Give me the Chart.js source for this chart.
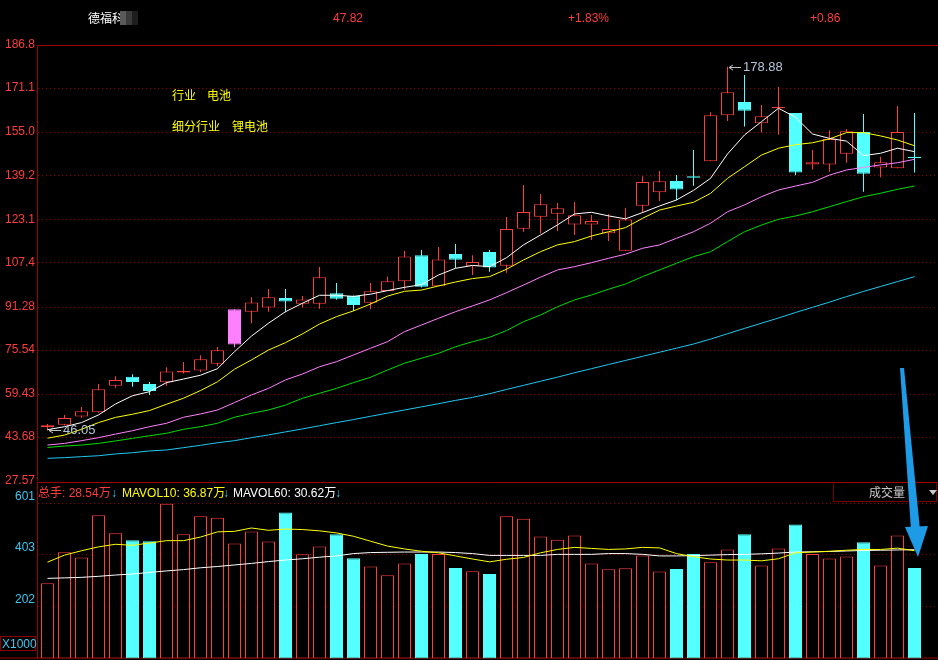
<!DOCTYPE html>
<html>
<head>
<meta charset="utf-8">
<script src="https://cdn.jsdelivr.net/npm/chart.js@4.4.1/dist/chart.umd.min.js"></script>
<style>
  html, body { margin: 0; padding: 0; background: #000; width: 938px; height: 660px; overflow: hidden; }
  #wrap { position: relative; width: 938px; height: 660px; }
  #pricebox { position: absolute; left: 0; top: 0; width: 938px; height: 492px; }
  #volbox { position: absolute; left: 0; top: 482px; width: 938px; height: 178px; }
  .t { position: absolute; white-space: nowrap; font: 12px "Liberation Sans", "Noto Sans CJK SC", sans-serif; line-height: 14px; }
  .cjk { font-family: "Noto Sans CJK SC", sans-serif; }
  .red { color: #ff3c3c; }
  .yel { color: #ffff00; }
  .wht { color: #ffffff; }
  .cyn { color: #3cc8f0; }
  #volname { position: absolute; left: 833px; top: 482px; width: 104px; height: 20px; border: 1px solid #7a0000; border-top: none; box-sizing: border-box; }
  #x1000 { position: absolute; left: 0; top: 636px; width: 36px; height: 15px; border: 1px solid #8c0000; box-sizing: border-box; }
  #overlay { position: absolute; left: 0; top: 0; pointer-events: none; }
</style>
</head>
<body>
<div id="wrap">
  <div id="pricebox"><canvas id="price"></canvas></div>
  <div id="volbox"><canvas id="vol"></canvas></div>

  <!-- header row -->
  <div class="t wht cjk" style="left:88px;top:11px;">德福科</div>
  <div style="position:absolute;left:120px;top:11px;width:6px;height:14px;background:#5a5a5a;"></div>
  <div style="position:absolute;left:126px;top:11px;width:6px;height:14px;background:#3a3a3a;"></div>
  <div style="position:absolute;left:132px;top:11px;width:6px;height:14px;background:#1e1e1e;"></div>
  <div class="t red" style="left:333px;top:11px;">47.82</div>
  <div class="t red" style="left:568px;top:11px;">+1.83%</div>
  <div class="t red" style="left:810px;top:11px;">+0.86</div>

  <!-- industry notes -->
  <div class="t yel cjk" style="left:172px;top:88px;">行业<span style="margin-left:11px;">电池</span></div>
  <div class="t yel cjk" style="left:172px;top:119px;">细分行业<span style="margin-left:12px;">锂电池</span></div>

  <!-- volume header -->
  <div class="t red" style="left:38px;top:486px;">总手: 28.54万</div>
  <div class="t cyn" style="left:111px;top:486px;">↓</div>
  <div class="t yel" style="left:122px;top:486px;">MAVOL10: 36.87万</div>
  <div class="t cyn" style="left:223px;top:486px;">↓</div>
  <div class="t wht" style="left:233px;top:486px;">MAVOL60: 30.62万</div>
  <div class="t cyn" style="left:335px;top:486px;">↓</div>

  <div id="volname">
    <div class="t cjk" style="left:35px;top:3px;color:#c8c8c8;">成交量</div>
    <div style="position:absolute;left:95px;top:8px;width:0;height:0;border-left:4px solid transparent;border-right:4px solid transparent;border-top:5px solid #c8c8c8;"></div>
  </div>
  <div id="x1000"><div class="t cyn" style="left:1px;top:0px;">X1000</div></div>

  <svg id="overlay" width="938" height="660">
    <polygon points="900,368 904,368 920,530 911,530" fill="#1e9be6"/>
    <polygon points="905,527 928,526 918,557" fill="#1e9be6"/>
  </svg>
</div>

<script>
// ── Daily candles ──
const open  = [47.2, 48.1, 51.1, 52.7, 62.4, 65.6, 63.0, 63.6, 67.2, 67.9, 70.4, 77.4, 89.4, 90.9, 94.4, 92.3, 92.3, 96.1, 95.1, 92.7,
               97.0, 100.5, 110.0, 98.7, 110.5, 106.0, 111.2, 106.2, 119.7, 124.1, 125.2, 121.2, 121.2, 118.05, 111.7, 128.1, 133.0, 137.1, 138.85, 144.3,
               161.1, 166.0, 158.2, 163.8, 162.0, 143.2, 143.2, 147.1, 155.0, 142.1, 141.8, 146.0];
const high  = [48.4, 51.7, 54.6, 63.0, 65.8, 66.6, 63.7, 69.1, 71.0, 73.5, 76.5, 90.3, 94.7, 97.7, 97.7, 95.1, 105.7, 99.9, 95.3, 99.9,
               102.3, 111.6, 111.9, 113.0, 114.1, 110.0, 111.9, 124.0, 135.7, 132.4, 129.1, 129.5, 124.7, 125.1, 127.2, 138.85, 140.8, 139.3, 148.45, 162.2,
               178.88, 175.8, 164.9, 171.5, 162.0, 148.45, 155.65, 156.1, 161.6, 146.0, 164.5, 162.0];
const low   = [46.05, 47.8, 50.7, 52.5, 61.6, 62.0, 59.0, 62.4, 66.8, 67.4, 69.5, 76.4, 85.2, 89.4, 89.2, 90.9, 90.5, 93.8, 89.7, 90.3,
               97.0, 97.4, 98.2, 98.7, 105.4, 102.8, 104.0, 103.65, 118.6, 118.0, 118.9, 117.4, 115.6, 115.2, 111.7, 125.45, 129.8, 130.1, 135.4, 144.3,
               159.0, 157.0, 154.8, 154.0, 139.2, 141.3, 140.5, 143.8, 133.2, 138.5, 141.8, 140.2];
const close = [47.9, 50.6, 53.0, 61.1, 64.5, 63.7, 60.4, 67.6, 67.8, 72.0, 75.3, 90.3, 92.8, 94.7, 93.1, 93.9, 102.0, 94.15, 91.85, 96.9,
               100.5, 109.6, 98.5, 108.5, 108.4, 107.55, 105.5, 119.6, 125.8, 128.6, 127.2, 124.6, 122.5, 119.6, 123.1, 136.8, 137.0, 134.0, 138.34, 161.1,
               169.5, 162.8, 160.8, 164.2, 140.2, 143.95, 152.5, 155.3, 139.8, 143.95, 155.0, 145.55];
const limitUpDays = [11];

// ── Moving averages ──
const ma5  = [46.3, 47.4, 48.9, 51.7, 55.7, 58.7, 60.2, 63.5, 64.8, 66.2, 68.6, 74.8, 80.5, 85.2, 89.4, 92.5, 95.4, 95.4, 95.0, 95.8,
              97.1, 98.3, 99.3, 102.8, 105.25, 106.3, 105.85, 109.1, 113.8, 117.4, 121.1, 125.1, 125.7, 124.4, 123.3, 125.6, 128.0, 130.2, 133.7, 138.1,
              147.0, 153.95, 158.8, 163.7, 160.4, 154.3, 152.7, 151.7, 146.4, 147.25, 149.1, 147.85];
const ma10 = [43.2, 44.35, 46.45, 48.9, 50.8, 51.95, 53.3, 55.6, 57.8, 60.6, 63.8, 68.4, 71.8, 75.4, 78.1, 81.3, 84.9, 87.6, 89.7, 92.2,
              95.1, 96.85, 97.3, 98.8, 100.25, 101.5, 102.2, 104.9, 108.3, 111.3, 113.8, 115.0, 117.05, 118.6, 120.1, 123.5, 126.5, 128.0, 129.35, 132.6,
              138.1, 142.35, 146.6, 149.1, 150.4, 151.1, 152.5, 154.8, 154.8, 153.6, 152.1, 150.0];
const ma20 = [40.7, 41.3, 42.3, 43.4, 44.7, 45.95, 47.4, 48.65, 50.85, 52.05, 53.5, 56.2, 59.0, 61.4, 64.5, 66.65, 69.3, 71.15, 73.6, 76.05,
              78.45, 82.1, 84.55, 87.0, 89.4, 91.5, 93.7, 96.35, 99.15, 102.0, 104.65, 105.85, 107.3, 108.9, 110.4, 112.55, 113.8, 116.2, 118.6, 121.7,
              125.9, 128.4, 131.4, 133.85, 135.3, 136.65, 139.3, 141.15, 142.1, 143.0, 143.8, 145.05];
const ma30 = [39.8, 40.35, 40.7, 41.3, 42.2, 43.15, 44.1, 45.0, 46.45, 47.4, 48.65, 50.85, 52.3, 53.5, 55.3, 57.8, 59.6, 61.4, 63.5, 65.45,
              68.1, 70.6, 72.4, 74.2, 76.6, 78.45, 80.05, 82.5, 85.75, 88.2, 91.2, 93.7, 95.5, 97.6, 99.5, 102.2, 104.65, 107.1, 109.5, 111.3,
              115.0, 118.6, 121.05, 123.15, 124.35, 125.9, 127.75, 129.6, 131.4, 132.65, 134.1, 135.3];
const ma60 = [35.85, 36.1, 36.45, 36.8, 37.45, 37.9, 38.55, 38.9, 39.75, 40.6, 41.55, 42.3, 43.4, 44.4, 45.5, 46.6, 47.75, 48.9, 50.0, 51.2,
              52.35, 53.5, 54.65, 55.8, 57.0, 58.1, 59.45, 61.0, 62.5, 64.0, 65.5, 67.1, 68.6, 70.1, 71.6, 73.1, 74.6, 76.1, 77.6, 79.4,
              81.35, 83.3, 85.2, 87.1, 89.1, 91.0, 92.9, 94.9, 96.8, 98.6, 100.4, 102.2];

// ── Volume (X1000) ──
const volume = [291, 411, 391, 554, 485, 458, 454, 599, 481, 550, 545, 445, 491, 453, 565, 403, 433, 481, 388, 356,
                322, 368, 404, 404, 350, 338, 327, 550, 541, 472, 460, 476, 368, 345, 349, 399, 337, 346, 404, 372,
                422, 481, 360, 426, 519, 404, 387, 395, 450, 360, 476, 350];
const mavol10 = [373, 400, 417, 432, 442, 438, 447, 456, 456, 470, 490, 492, 505, 496, 501, 499, 494, 486, 473, 454,
                 435, 424, 415, 409, 397, 385, 374, 384, 391, 409, 422, 430, 426, 422, 424, 430, 428, 406, 394, 385,
                 381, 381, 378, 386, 409, 412, 415, 419, 422, 422, 427, 417];
const mavol60 = [310, 312, 314, 318, 323, 327, 333, 339, 344, 351, 356, 362, 368, 375, 381, 386, 392, 397, 406, 410,
                 411, 412, 412, 412, 410, 406, 399, 399, 399, 399, 403, 403, 403, 406, 406, 403, 397, 397, 398, 400,
                 402, 403, 405, 408, 412, 413, 414, 416, 418, 419, 420, 421];

// ── Axis ticks ──
const priceTicks = [27.57, 43.68, 59.43, 75.54, 91.28, 107.4, 123.1, 139.2, 155.0, 171.1, 186.8];
const priceTickLabels = ['27.57', '43.68', '59.43', '75.54', '91.28', '107.4', '123.1', '139.2', '155.0', '171.1', '186.8'];
const volTicks = [202, 403, 601];

const RED = '#ff3c3c', CYAN = '#54ffff', MAGENTA = '#ff80ff';
const GRID = '#8c0000', FRAME = '#a00000';
// 17px per trading day, first candle centred at x = 47.5
const X_MIN = -9.5 / 17, X_MAX = X_MIN + 900 / 17;
const FONT = { family: 'Liberation Sans', size: 12 };

const kind = i => limitUpDays.includes(i) ? 'limit' : (close[i] > open[i] ? 'up' : 'down');
const kinds = open.map((_, i) => kind(i));
const lineColor = { up: RED, down: CYAN, limit: MAGENTA };
const fillColor = { up: '#000000', down: CYAN, limit: MAGENTA };

const pts = arr => arr.map((v, i) => ({ x: i, y: v }));

// dotted grid + solid frame for a panel
const panelFrame = {
  id: 'panelFrame',
  beforeDatasetsDraw(chart, args, opts) {
    const { ctx, chartArea: a, scales: { y } } = chart;
    ctx.save();
    ctx.lineWidth = 1;
    ctx.strokeStyle = GRID;
    ctx.setLineDash([1, 3]);
    opts.dotted.forEach(v => {
      const py = Math.round(y.getPixelForValue(v)) + 0.5;
      ctx.beginPath(); ctx.moveTo(a.left, py); ctx.lineTo(a.right, py); ctx.stroke();
    });
    ctx.setLineDash([]);
    ctx.strokeStyle = FRAME;
    ctx.beginPath();
    ctx.moveTo(a.left - 0.5, a.top); ctx.lineTo(a.left - 0.5, a.bottom);
    if (opts.top) { ctx.moveTo(a.left - 1, a.top + 0.5); ctx.lineTo(a.right, a.top + 0.5); }
    if (opts.bottom) { ctx.moveTo(0, a.bottom - 0.5); ctx.lineTo(a.right, a.bottom - 0.5); }
    ctx.stroke();
    ctx.restore();
  }
};

// highest / lowest price markers
const extremeLabels = {
  id: 'extremeLabels',
  afterDatasetsDraw(chart) {
    const { ctx, scales: { x, y } } = chart;
    const hi = Math.max(...high), lo = Math.min(...low);
    [[high.indexOf(hi), hi], [low.indexOf(lo), lo]].forEach(([i, v]) => {
      const px = Math.round(x.getPixelForValue(i)) + 1;
      const py = Math.round(y.getPixelForValue(v)) + 0.5;
      ctx.save();
      ctx.strokeStyle = '#c0c0c0';
      ctx.lineWidth = 1;
      ctx.beginPath();
      ctx.moveTo(px, py); ctx.lineTo(px + 12, py);
      ctx.moveTo(px + 4, py - 2.5); ctx.lineTo(px, py); ctx.lineTo(px + 4, py + 2.5);
      ctx.stroke();
      ctx.fillStyle = '#b4c4d8';
      ctx.font = '13px "Liberation Sans"';
      ctx.textBaseline = 'middle';
      ctx.fillText(v.toFixed(2), px + 14, py);
      ctx.restore();
    });
  }
};

const maLine = (data, color) => ({
  type: 'line', data: pts(data), borderColor: color, borderWidth: 1,
  pointRadius: 0, tension: 0, order: 0
});

new Chart(document.getElementById('price'), {
  type: 'bar',
  data: {
    datasets: [
      maLine(ma5, '#ffffff'),
      maLine(ma10, '#ffff00'),
      maLine(ma20, '#ff80ff'),
      maLine(ma30, '#00dc00'),
      maLine(ma60, '#1ec8f0'),
      {
        // candle bodies
        data: open.map((o, i) => ({ x: i, y: [o, close[i]] })),
        backgroundColor: kinds.map(k => fillColor[k]),
        borderColor: kinds.map(k => lineColor[k]),
        borderWidth: 1, borderSkipped: false, inflateAmount: 0,
        barThickness: 13, grouped: false, order: 1
      },
      {
        // wicks
        data: low.map((l, i) => ({ x: i, y: [l, high[i]] })),
        backgroundColor: kinds.map(k => lineColor[k]),
        borderWidth: 0, inflateAmount: 0,
        barThickness: 1, grouped: false, order: 2
      }
    ]
  },
  options: {
    responsive: true,
    maintainAspectRatio: false,
    animation: false,
    layout: { padding: { top: 45, bottom: 11, left: 0, right: 0 } },
    plugins: {
      legend: { display: false },
      tooltip: { enabled: false },
      panelFrame: { dotted: priceTicks.slice(1, -1), top: true, bottom: false }
    },
    scales: {
      x: { type: 'linear', min: X_MIN, max: X_MAX, offset: false, display: false },
      y: {
        type: 'linear', position: 'left', min: 27.57, max: 186.8, beginAtZero: false,
        afterBuildTicks: s => { s.ticks = priceTicks.map(v => ({ value: v })); },
        afterFit: s => { s.width = 38; s.paddingTop = 0; s.paddingBottom = 0; },
        grid: { display: false, drawTicks: false },
        border: { display: false },
        ticks: { color: RED, font: FONT, padding: 3, callback: (v, i) => priceTickLabels[i] }
      }
    }
  },
  plugins: [panelFrame, extremeLabels]
});

new Chart(document.getElementById('vol'), {
  type: 'bar',
  data: {
    datasets: [
      { type: 'line', data: pts(mavol10), borderColor: '#ffff00', borderWidth: 1, pointRadius: 0, order: 0 },
      { type: 'line', data: pts(mavol60), borderColor: '#ffffff', borderWidth: 1, pointRadius: 0, order: 0 },
      {
        data: volume.map((v, i) => ({ x: i, y: v })),
        backgroundColor: kinds.map(k => k === 'down' ? CYAN : '#000000'),
        borderColor: kinds.map(k => k === 'down' ? CYAN : RED),
        borderWidth: 1, borderSkipped: false, inflateAmount: 0,
        barThickness: 13, grouped: false, order: 1
      }
    ]
  },
  options: {
    responsive: true,
    maintainAspectRatio: false,
    animation: false,
    layout: { padding: { top: 0, bottom: 1.5, left: 0, right: 0 } },
    plugins: {
      legend: { display: false },
      tooltip: { enabled: false },
      panelFrame: { dotted: volTicks, top: true, bottom: true }
    },
    scales: {
      x: { type: 'linear', min: X_MIN, max: X_MAX, offset: false, display: false },
      y: {
        type: 'linear', position: 'left', min: 0, max: 683,
        afterBuildTicks: s => { s.ticks = volTicks.map(v => ({ value: v })); },
        afterFit: s => { s.width = 38; s.paddingTop = 0; s.paddingBottom = 0; },
        grid: { display: false, drawTicks: false },
        border: { display: false },
        ticks: { color: '#3cc8f0', font: FONT, padding: 3, labelOffset: -7 }
      }
    }
  },
  plugins: [panelFrame]
});
</script>
</body>
</html>
